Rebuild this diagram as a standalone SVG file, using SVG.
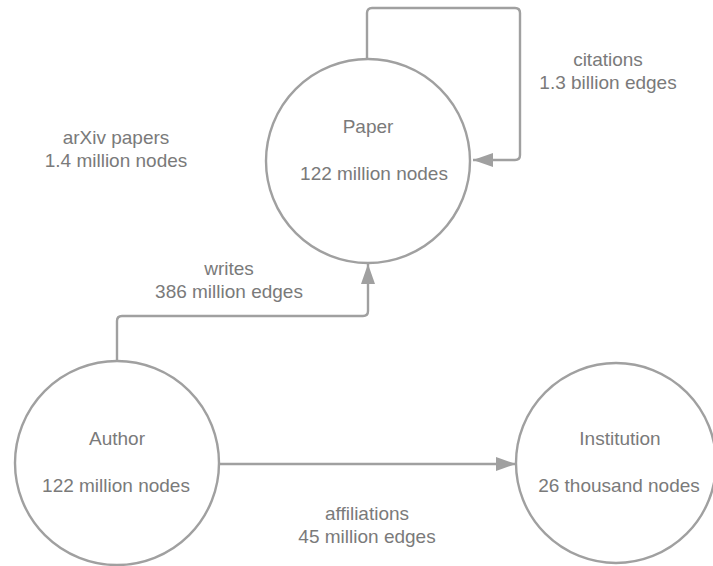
<svg xmlns="http://www.w3.org/2000/svg" width="713" height="566" viewBox="0 0 713 566">
<defs>
<style>
.node{fill:#fff;stroke:#a0a0a0;stroke-width:2.4}
.edge{fill:none;stroke:#a0a0a0;stroke-width:2.4}
text{font-family:"Liberation Sans",Arial,sans-serif;font-size:19px;fill:#7a7a7a;text-anchor:middle}
</style>
<marker id="arr" markerUnits="userSpaceOnUse" markerWidth="22" markerHeight="16" refX="20" refY="7" orient="auto">
<path d="M0,0 L20,7 L0,14 Z" fill="#a0a0a0"/>
</marker>
</defs>
<rect width="713" height="566" fill="#fff"/>
<g id="connectors">
<path class="edge" d="M367,59 V13 Q367,8 372,8 H515 Q520,8 520,13 V155 Q520,160 515,160 H473" marker-end="url(#arr)"/>
<path class="edge" d="M117,362 V321 Q117,316 122,316 H363 Q368,316 368,311 V264" marker-end="url(#arr)"/>
<path class="edge" d="M220,464 H516" marker-end="url(#arr)"/>
</g>
<g id="paper">
<circle class="node" cx="368" cy="161" r="102"/>
<text x="368" y="133">Paper</text>
<text x="374" y="180">122 million nodes</text>
</g>
<g id="author">
<circle class="node" cx="117" cy="463" r="102"/>
<text x="117" y="445">Author</text>
<text x="116" y="492">122 million nodes</text>
</g>
<g id="institution">
<circle class="node" cx="616" cy="463" r="100"/>
<text x="620" y="445">Institution</text>
<text x="619" y="492">26 thousand nodes</text>
</g>
<g id="labels">
<text x="116" y="144">arXiv papers</text>
<text x="116" y="167">1.4 million nodes</text>
<text x="608" y="66">citations</text>
<text x="608" y="89">1.3 billion edges</text>
<text x="229" y="275">writes</text>
<text x="229" y="298">386 million edges</text>
<text x="367" y="520">affiliations</text>
<text x="367" y="543">45 million edges</text>
</g>
</svg>
